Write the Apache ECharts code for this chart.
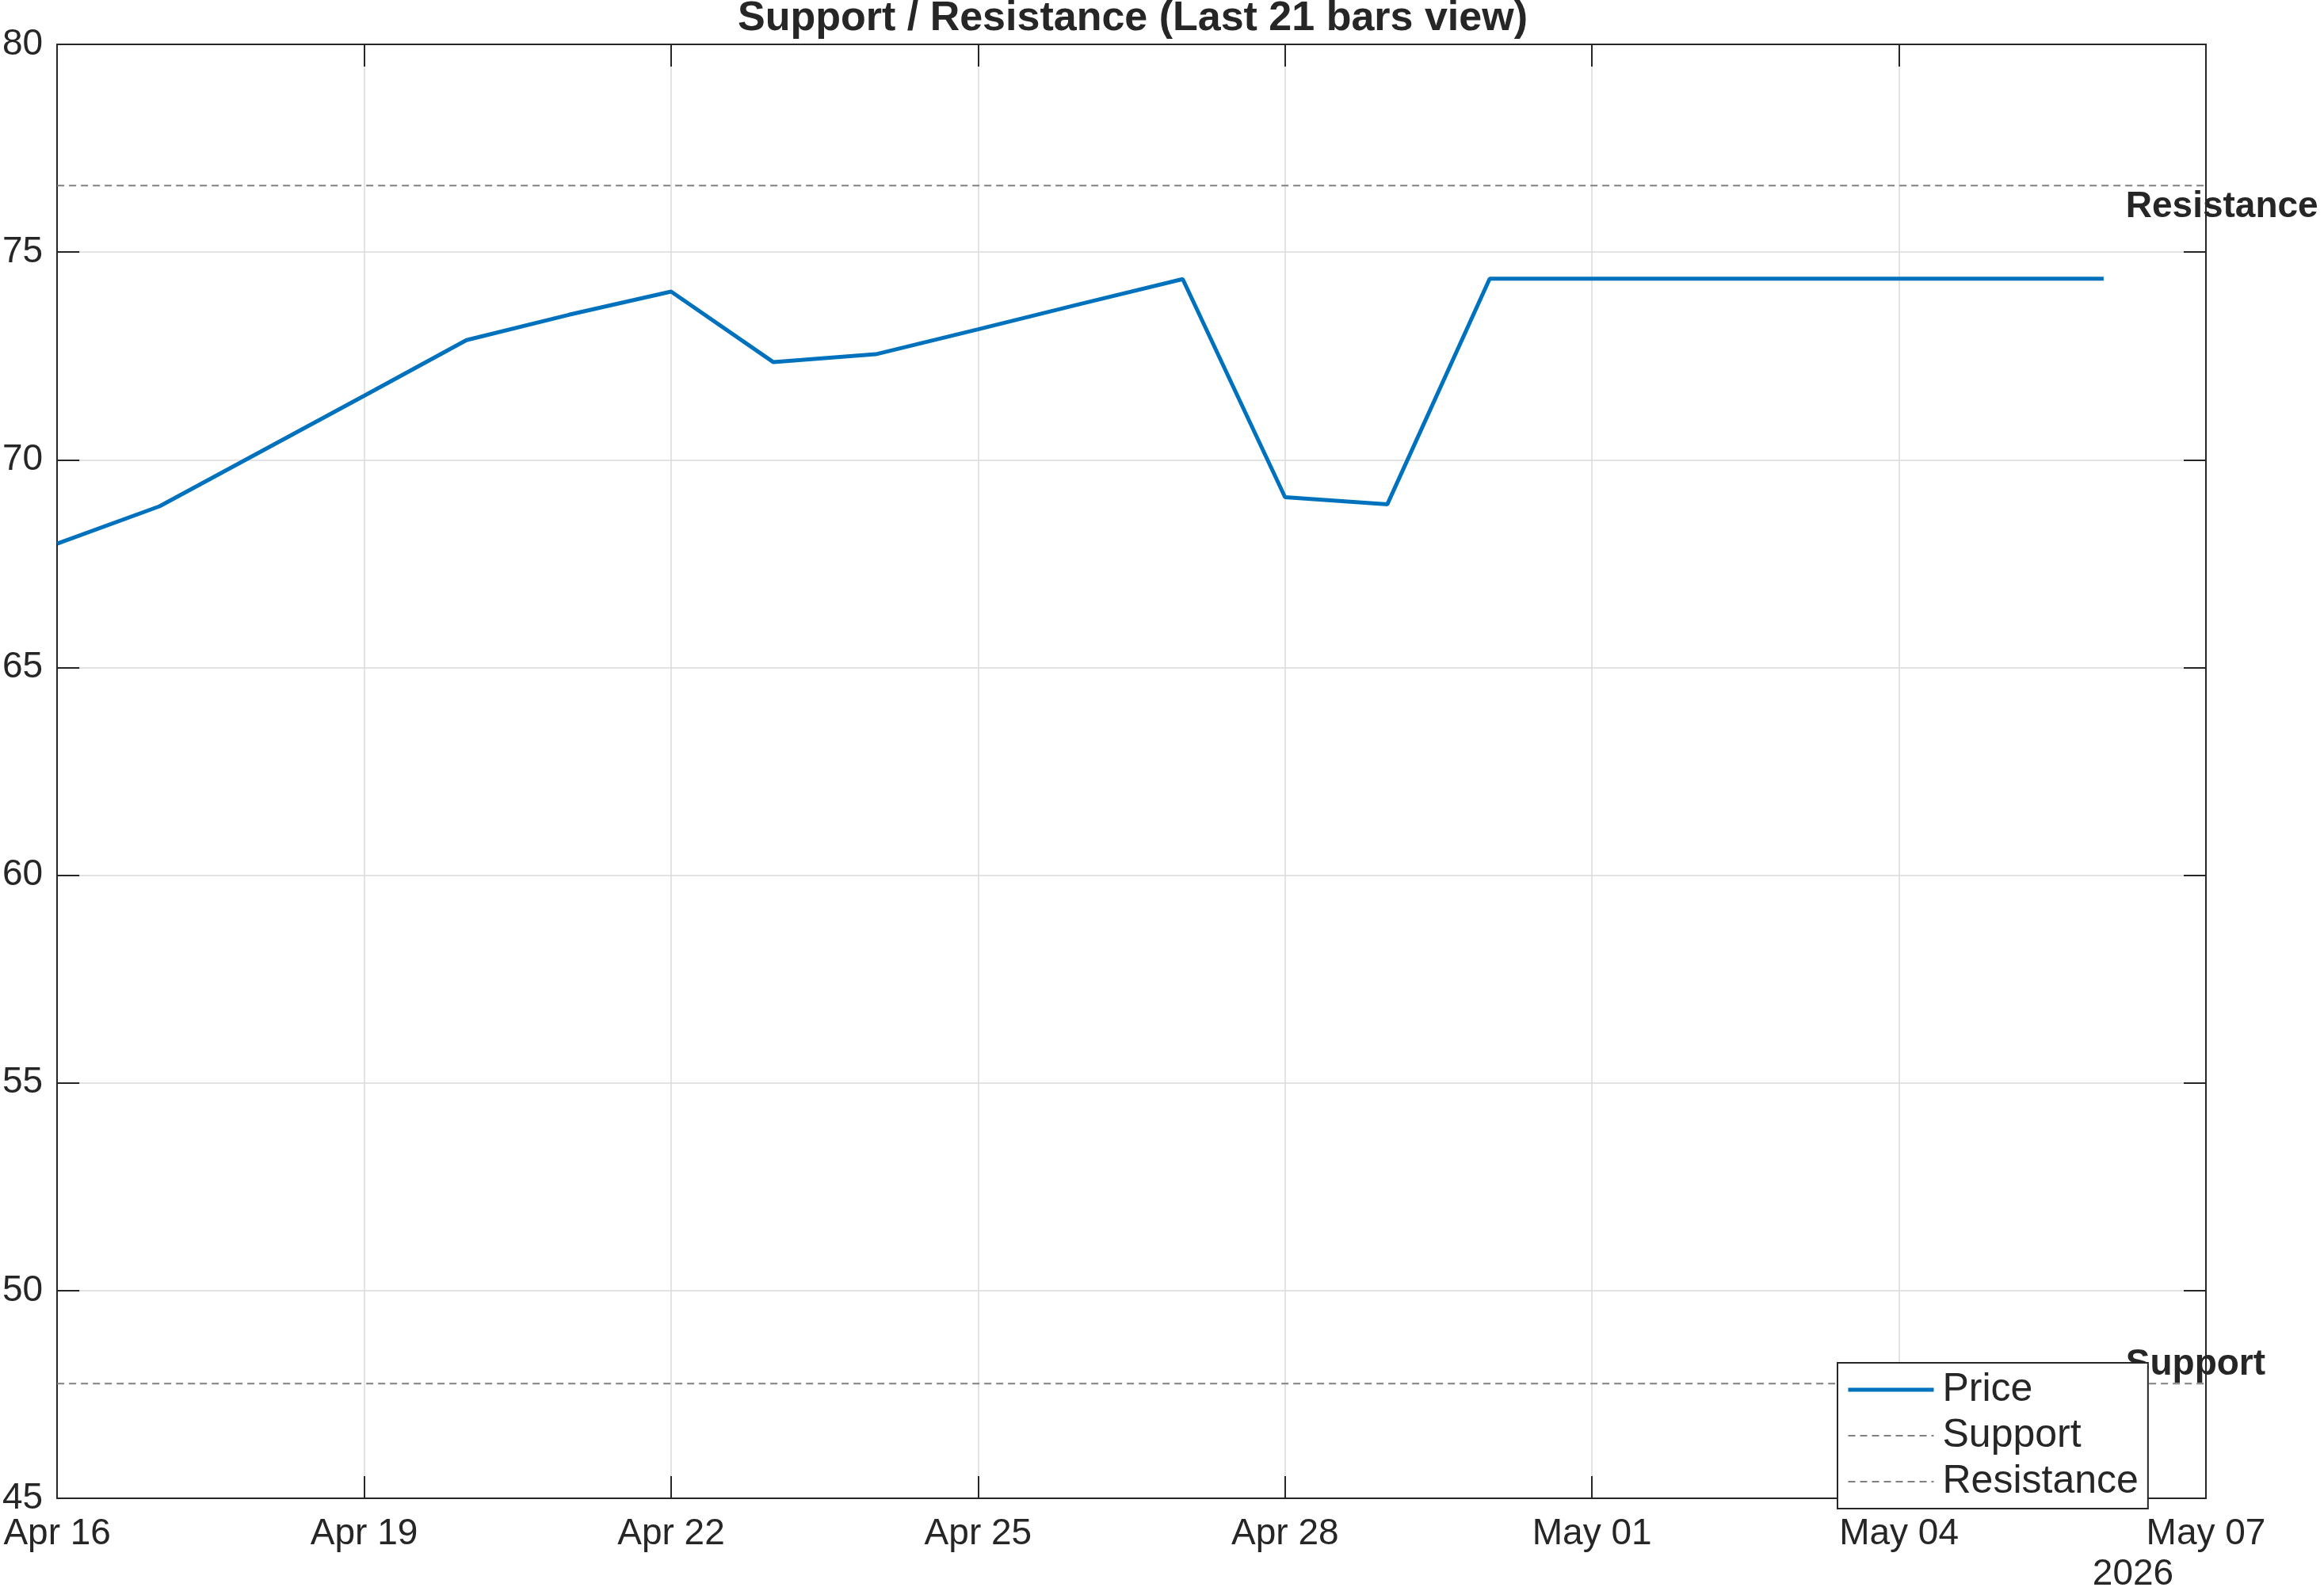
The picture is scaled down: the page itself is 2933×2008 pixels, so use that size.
<!DOCTYPE html>
<html>
<head>
<meta charset="utf-8">
<script src="https://cdn.jsdelivr.net/npm/echarts@6/dist/echarts.min.js"></script>
<style>
    html, body { margin: 0; padding: 0; background: #fff; }
    #chart { width: 2933px; height: 2008px; }
</style>
</head>
<body>
<div id="chart"></div>
<script>
const START = '2026-04-16';
const END = '2026-05-07';
const TICK_DAYS = 3;

const DATES = [
    '2026-04-16', '2026-04-17', '2026-04-18', '2026-04-19', '2026-04-20', '2026-04-21', '2026-04-22',
    '2026-04-23', '2026-04-24', '2026-04-25', '2026-04-26', '2026-04-27', '2026-04-28', '2026-04-29',
    '2026-04-30', '2026-05-01', '2026-05-02', '2026-05-03', '2026-05-04', '2026-05-05', '2026-05-06'
];
const PRICES = [
    67.98, 68.88, 70.21, 71.54, 72.88, 73.49, 74.05,
    72.35, 72.54, 73.14, 73.75, 74.35, 69.10, 68.93,
    74.36, 74.36, 74.36, 74.36, 74.36, 74.36, 74.36
];
const SUPPORT = 47.76;
const RESISTANCE = 76.60;
const LABEL_DAY = 20.22;   // where the Support / Resistance texts start

const Y_MIN = 45, Y_MAX = 80, Y_STEP = 5;
const MONTHS = ['Jan', 'Feb', 'Mar', 'Apr', 'May', 'Jun', 'Jul', 'Aug', 'Sep', 'Oct', 'Nov', 'Dec'];

const DAY_MS = 86400000;
const t0 = Date.parse(START);
const dayOf = d => (Date.parse(d) - t0) / DAY_MS;
const lastDay = dayOf(END);

function dayLabel(v) {
    const d = new Date(t0 + v * DAY_MS);
    return MONTHS[d.getUTCMonth()] + ' ' + String(d.getUTCDate()).padStart(2, '0');
}

const FONT = 'Liberation Sans';
const INK = '#262626';
const BLUE = '#0072BD';
const GREY = '#808080';

const chart = echarts.init(document.getElementById('chart'));

const tickStyle = { show: true, inside: true, length: 28, lineStyle: { color: INK, width: 2 } };
const axisLine = { show: true, onZero: false, lineStyle: { color: INK, width: 2 } };
const gridLine = { show: true, lineStyle: { color: '#dadada', width: 1.5 } };

const levelLabel = {
    show: true, position: [0, 0], align: 'left',
    fontFamily: FONT, fontSize: 46, fontWeight: 'bold', color: INK, opacity: 1
};

chart.setOption({
    animation: false,
    backgroundColor: '#fff',
    textStyle: { fontFamily: FONT },
    title: {
        text: 'Support / Resistance (Last 21 bars view)',
        left: 931,
        top: -2,
        padding: 0,
        textStyle: { fontFamily: FONT, fontSize: 52, fontWeight: 'bold', color: INK }
    },
    grid: { left: 71, top: 56, width: 2713, height: 1835, containLabel: false },
    legend: {
        data: [
            { name: 'Price', lineStyle: { width: 5 } },
            { name: 'Support', lineStyle: { width: 2 } },
            { name: 'Resistance', lineStyle: { width: 2 } }
        ],
        orient: 'vertical',
        left: 2319,
        top: 1720,
        padding: [9, 12, 9, 11],
        itemWidth: 108,
        itemHeight: 14,
        itemGap: 8,
        backgroundColor: '#fff',
        borderColor: INK,
        borderWidth: 2,
        borderRadius: 0,
        itemStyle: { opacity: 0 },
        z: 20,
        textStyle: { fontFamily: FONT, fontSize: 50, color: INK, padding: [0, 0, 0, 6] }
    },
    xAxis: [
        {
            type: 'value', position: 'bottom', min: 0, max: lastDay, interval: TICK_DAYS,
            axisLine: axisLine, axisTick: tickStyle, splitLine: gridLine,
            axisLabel: { formatter: dayLabel, fontFamily: FONT, fontSize: 46, color: INK, margin: 22 }
        },
        {
            type: 'value', position: 'top', min: 0, max: lastDay, interval: TICK_DAYS,
            axisLine: axisLine, axisTick: tickStyle, splitLine: { show: false },
            axisLabel: { show: false }
        }
    ],
    yAxis: [
        {
            type: 'value', position: 'left', min: Y_MIN, max: Y_MAX, interval: Y_STEP,
            axisLine: axisLine, axisTick: tickStyle, splitLine: gridLine,
            axisLabel: { fontFamily: FONT, fontSize: 46, color: INK, margin: 18 }
        },
        {
            type: 'value', position: 'right', min: Y_MIN, max: Y_MAX, interval: Y_STEP,
            axisLine: axisLine, axisTick: tickStyle, splitLine: { show: false },
            axisLabel: { show: false }
        }
    ],
    series: [
        {
            name: 'Price',
            type: 'line',
            symbol: 'none',
            data: DATES.map((d, i) => [dayOf(d), PRICES[i]]),
            lineStyle: { color: BLUE, width: 5 },
            itemStyle: { color: BLUE },
            z: 5
        },
        {
            name: 'Support',
            type: 'line',
            symbol: 'none',
            data: [[0, SUPPORT], [lastDay, SUPPORT]],
            lineStyle: { color: GREY, width: 2, type: [9, 6] },
            itemStyle: { color: GREY },
            z: 4
        },
        {
            name: 'Resistance',
            type: 'line',
            symbol: 'none',
            data: [[0, RESISTANCE], [lastDay, RESISTANCE]],
            lineStyle: { color: GREY, width: 2, type: [9, 6] },
            itemStyle: { color: GREY },
            z: 4
        },
        {
            name: 'levelText',
            type: 'scatter',
            symbolSize: 1,
            itemStyle: { color: 'rgba(0,0,0,0)', opacity: 1 },
            silent: true,
            clip: false,
            z: 6,
            data: [
                {
                    value: [LABEL_DAY, RESISTANCE],
                    label: Object.assign({}, levelLabel, { formatter: 'Resistance', position: [0, 5], verticalAlign: 'top' })
                },
                {
                    value: [LABEL_DAY, SUPPORT],
                    label: Object.assign({}, levelLabel, { formatter: 'Support', verticalAlign: 'bottom' })
                }
            ]
        }
    ],
    graphic: [
        {
            type: 'text',
            x: 2692,
            y: 1987,
            style: { text: '2026', font: '46px "Liberation Sans"', fill: INK, textAlign: 'center', textVerticalAlign: 'middle' }
        }
    ]
});
</script>
</body>
</html>
